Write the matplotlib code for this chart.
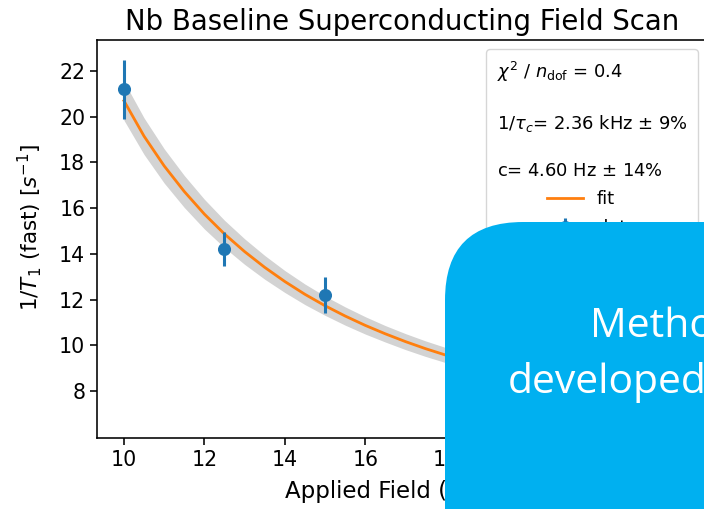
import matplotlib.pyplot as plt
from matplotlib.patches import FancyBboxPatch

# measured 1/T1 (fast) rates vs applied field
pole = [10.0, 12.5, 15.0]
rate = [21.2, 14.2, 12.2]
rate_err = [1.3, 0.75, 0.8]

# fitted curve and its uncertainty band
fit_pole = [10, 10.5, 11, 11.5, 12, 12.5, 13, 13.5, 14, 14.5, 15, 15.5, 16, 16.5,
            17, 17.5, 18, 19, 20, 21, 22, 23, 24, 24.5]
fit_rate = [20.7, 19.15, 17.85, 16.73, 15.74, 14.87, 14.1, 13.41, 12.79, 12.23, 11.73,
            11.28, 10.87, 10.5, 10.16, 9.85, 9.57, 9.05, 8.6, 8.22, 7.9, 7.65, 7.45, 7.35]
fit_err = [0.85, 0.8, 0.75, 0.7, 0.65, 0.6, 0.56, 0.52, 0.48, 0.45, 0.42, 0.4, 0.38, 0.36,
           0.35, 0.34, 0.33, 0.31, 0.3, 0.29, 0.28, 0.28, 0.27, 0.27]

chi2 = 0.4
inv_tau = 2.36
inv_tau_pct = 9
c_val = 4.60
c_pct = 14

fig = plt.figure(figsize=(7.04, 5.09), dpi=100)
ax = fig.add_axes([97 / 704, 71 / 509, 610 / 704, 398 / 509])

lo = [r - e for r, e in zip(fit_rate, fit_err)]
hi = [r + e for r, e in zip(fit_rate, fit_err)]
ax.fill_between(fit_pole, lo, hi, color='lightgray', lw=0)
ax.plot(fit_pole, fit_rate, color='C1', lw=2, label='fit')
ax.errorbar(pole, rate, yerr=rate_err, fmt='o', color='C0', ms=8.4, elinewidth=2.2, label='data')

ax.set_xlim(9.33, 24.5)
ax.set_ylim(5.94, 23.36)
ax.set_xticks([10, 12, 14, 16, 18, 20, 22, 24])
ax.set_yticks([8, 10, 12, 14, 16, 18, 20, 22])
ax.tick_params(labelsize=14.8, length=5, width=1.15)
for s in ax.spines.values():
    s.set_linewidth(1.15)

ax.set_xlabel('Applied Field (Gauss)', fontsize=16.5, labelpad=7)
ax.xaxis.label.set_x(0.505)
ax.set_ylabel(r'$1/T_1$ (fast) $[s^{-1}]$', fontsize=15.5, labelpad=11)
ax.yaxis.label.set_y(0.53)
ax.set_title('Nb Baseline Superconducting Field Scan', fontsize=19.8, pad=7)

txt = (r'$\chi^2$ / $n_{\rm dof}$ = %.1f' % chi2 + '\n\n'
       + r'$1/\tau_c$= %.2f kHz $\pm$ %d%%' % (inv_tau, inv_tau_pct) + '\n\n'
       + r'c= %.2f Hz $\pm$ %d%%' % (c_val, c_pct))
leg = ax.legend(loc='upper right', title=txt, fontsize=12.9, title_fontsize=12.9,
                borderpad=0.6, labelspacing=0.6)
leg.get_title().set_multialignment('left')
leg.get_title().set_linespacing(1.36)

# slide box sitting on top of the plot
over = fig.add_axes([0, 0, 1, 1])
over.set_xlim(0, 704)
over.set_ylim(509, 0)
over.axis('off')
box = FancyBboxPatch((445, 222), 400, 400, boxstyle='round,pad=0,rounding_size=78',
                     fc='#00b0f0', ec='none')
over.add_patch(box)
over.text(590, 337, 'Method', color='white', family='Open Sans', fontsize=29.4,
          ha='left', va='baseline')
over.text(508, 393, 'developed', color='white', family='Open Sans', fontsize=29.4,
          ha='left', va='baseline')

fig.savefig('out.png', dpi=100)
